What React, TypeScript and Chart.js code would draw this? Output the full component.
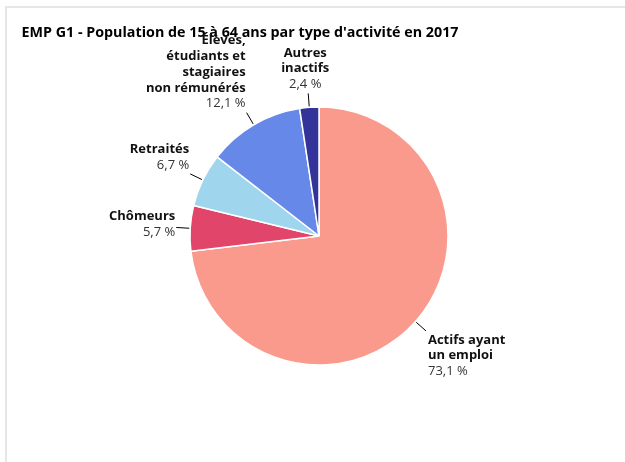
import React, { useEffect, useRef } from "react";
import { Chart, registerables } from "chart.js";

Chart.register(...registerables);

const title = "EMP G1 - Population de 15 à 64 ans par type d'activité en 2017";
const categories = [
  "Actifs ayant un emploi",
  "Chômeurs",
  "Retraités",
  "Élèves, étudiants et stagiaires non rémunérés",
  "Autres inactifs",
];
const labelLines = [
  ["Actifs ayant", "un emploi"],
  ["Chômeurs"],
  ["Retraités"],
  ["Élèves,", "étudiants et", "stagiaires", "non rémunérés"],
  ["Autres", "inactifs"],
];
const values = [73.1, 5.7, 6.7, 12.1, 2.4];
const colors = ["#fa9a8c", "#e2456a", "#9fd6ee", "#6688e8", "#333399"];

const FONT = "'Open Sans', 'DejaVu Sans', sans-serif";

const fmt = (v: number) => v.toFixed(1).replace(".", ",") + " %";

const labelPlugin = {
  id: "pieLabels",
  beforeDraw(chart: any) {
    const ctx = chart.ctx;
    ctx.save();
    ctx.font = `bold 14.3px ${FONT}`;
    ctx.fillStyle = "#000";
    ctx.textAlign = "left";
    ctx.textBaseline = "alphabetic";
    ctx.fillText(title, 21.5, 37);
    ctx.restore();
  },
  afterDatasetsDraw(chart: any) {
    const ctx = chart.ctx;
    const meta = chart.getDatasetMeta(0);
    ctx.save();
    meta.data.forEach((arc: any, i: number) => {
      const { x, y, startAngle, endAngle, outerRadius } = arc.getProps(
        ["x", "y", "startAngle", "endAngle", "outerRadius"],
        true
      );
      const mid = (startAngle + endAngle) / 2;
      const c = Math.cos(mid);
      const s = Math.sin(mid);
      const x0 = x + c * (outerRadius + 1);
      const y0 = y + s * (outerRadius + 1);
      const x1 = x + c * (outerRadius + 14);
      const y1 = y + s * (outerRadius + 14);
      ctx.beginPath();
      ctx.moveTo(x0, y0);
      ctx.lineTo(x1, y1);
      ctx.strokeStyle = "#000";
      ctx.lineWidth = 1;
      ctx.stroke();

      const lines = [
        ...labelLines[i].map((t) => ({ t, bold: true })),
        { t: fmt(values[i]), bold: false },
      ];
      const lh = 15.8;
      const h = lines.length * lh;
      let align: CanvasTextAlign;
      let tx: number;
      if (c > 0.3) {
        align = "left";
        tx = x1 + 2;
      } else if (c < -0.3) {
        align = "right";
        tx = x1 - 1;
      } else {
        align = "center";
        tx = x1 - 3;
      }
      let top: number;
      if (s > 0.3) top = y1 + 1;
      else if (s < -0.3) top = y1 - 1 - h;
      else top = y1 - 3.5 - h / 2;
      ctx.textAlign = align;
      ctx.textBaseline = "middle";
      lines.forEach((ln, k) => {
        ctx.font = ln.bold ? `bold 13px ${FONT}` : `13px ${FONT}`;
        ctx.fillStyle = ln.bold ? "#111" : "#333";
        ctx.fillText(ln.t, tx, top + lh * k + lh / 2);
      });
    });
    ctx.restore();
  },
};

export default function App() {
  const ref = useRef<HTMLCanvasElement | null>(null);
  useEffect(() => {
    if (!ref.current) return;
    const chart = new Chart(ref.current, {
      type: "pie",
      data: {
        labels: categories,
        datasets: [
          {
            data: values,
            backgroundColor: colors,
            borderColor: "#ffffff",
            borderWidth: 1.5,
          },
        ],
      },
      options: {
        animation: false,
        responsive: false,
        radius: 129,
        layout: { padding: { left: 190, right: 177, top: 107, bottom: 97 } },
        plugins: {
          legend: { display: false },
          tooltip: { enabled: false },
          title: { display: false },
        },
      } as any,
      plugins: [labelPlugin],
    });
    return () => chart.destroy();
  }, []);
  return (
    <div
      style={{
        position: "absolute",
        left: 0,
        top: 0,
        width: 625,
        height: 462,
        overflow: "hidden",
        background: "#fff",
      }}
    >
      <div
        style={{
          position: "absolute",
          left: 5,
          top: 6,
          width: 700,
          height: 600,
          borderLeft: "2px solid #e6e6e6",
          borderTop: "2px solid #e6e6e6",
        }}
      />
      <canvas
        ref={ref}
        width={625}
        height={462}
        style={{ position: "absolute", left: 0, top: 0, width: 625, height: 462 }}
      />
    </div>
  );
}
